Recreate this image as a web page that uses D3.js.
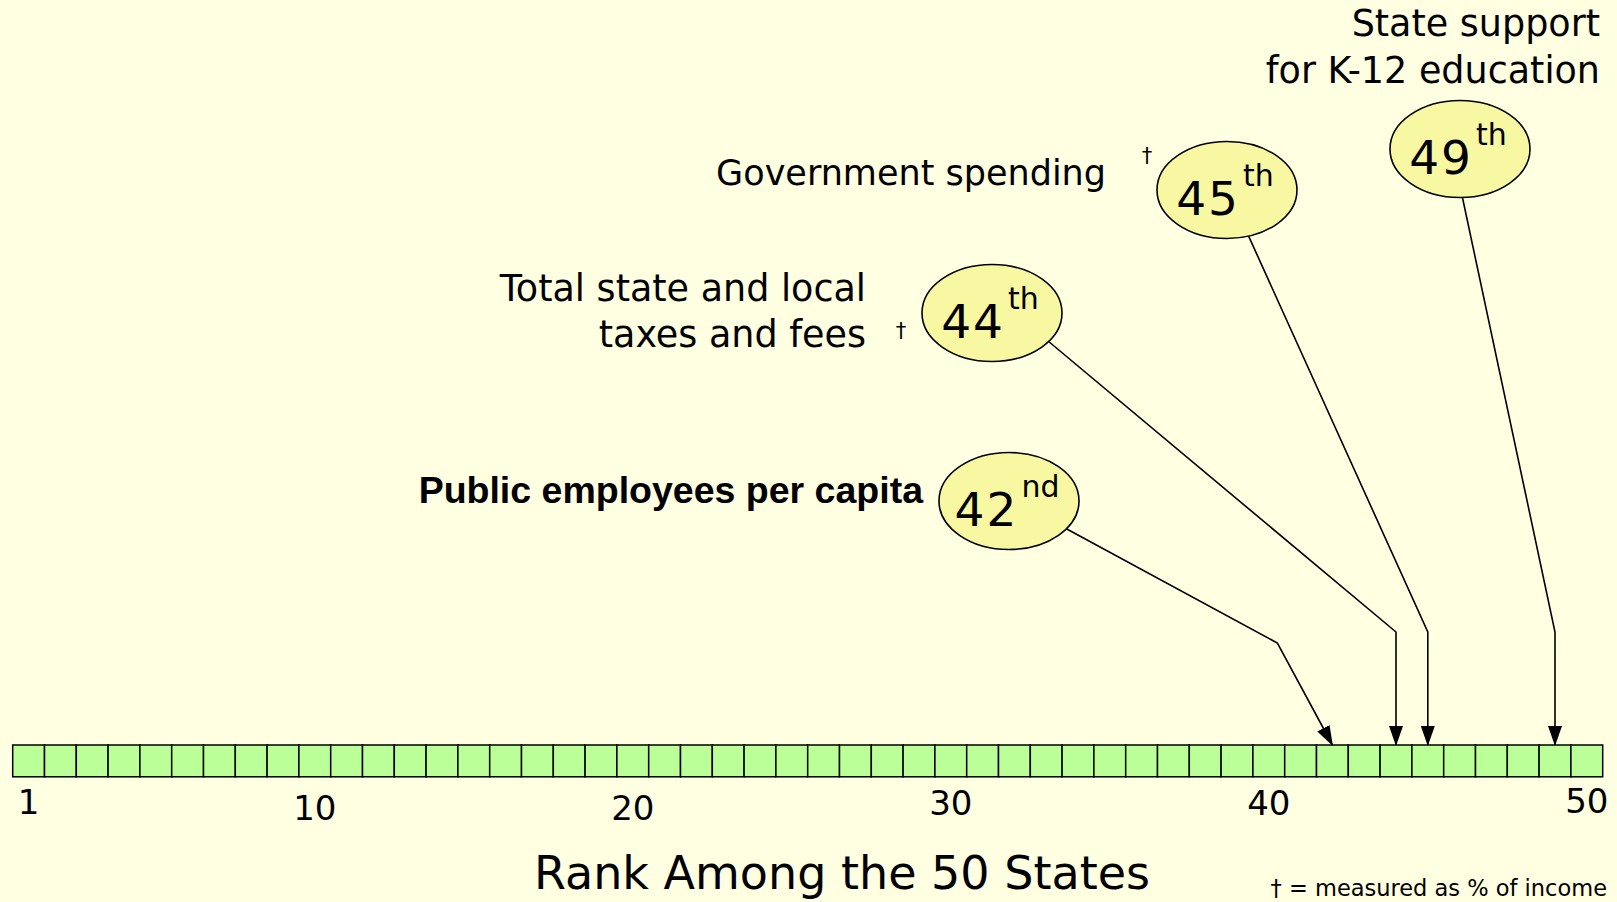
<!DOCTYPE html>
<html>
<head>
<meta charset="utf-8">
<script src="https://cdn.jsdelivr.net/npm/d3@7"></script>
<style>
  body { margin: 0; background: #ffffe1; }
  svg { display: block; }
  text { font-family: "DejaVu Sans", Verdana, sans-serif; fill: #000; }
</style>
</head>
<body>
<div id="chart"></div>
<script>
// ranks along the bar and the labelled ones
var ranks = d3.range(1, 51);
var tickLabels = [1, 10, 20, 30, 40, 50];

// the four measures, where the state ranks on each
var measureLines = [
  ["Public employees per capita"],
  ["Total state and local", "taxes and fees"],
  ["Government spending"],
  ["State support", "for K-12 education"]
];
var measureRanks = [42, 44, 45, 49];
var suffixes = ["nd", "th", "th", "th"];
var perIncome = [false, true, true, false];

var axisTitle = "Rank Among the 50 States";
var footnote = "\u2020 = measured as % of income";

// set the dimensions of the page
var width = 1617, height = 902;

var svg = d3.select("#chart")
  .append("svg")
    .attr("width", width)
    .attr("height", height);

svg.append("rect")
  .attr("width", width).attr("height", height)
  .attr("fill", "#ffffe1");

// band scale for the 50 cells
var x = d3.scaleBand()
  .domain(ranks)
  .range([12.7, 1602.7]);
var barTop = 745, barH = x.bandwidth();
function mid(r) { return x(r) + x.bandwidth() / 2; }

// bar cells
svg.append("g")
  .selectAll("rect")
  .data(ranks)
  .enter()
  .append("rect")
    .attr("x", function(d) { return x(d); })
    .attr("y", barTop)
    .attr("width", x.bandwidth())
    .attr("height", barH)
    .attr("fill", "#bbff99")
    .attr("stroke", "#000")
    .attr("stroke-width", 1.5);

// tick labels (the original has them a little staggered)
var tickNudge = {1: -4, 10: 2, 20: 2, 30: -3, 40: -3, 50: -5};
var xAxis = d3.axisBottom(x).tickValues(tickLabels).tickSize(0).tickPadding(0);
var gx = svg.append("g")
  .attr("transform", "translate(0," + (barTop + barH) + ")")
  .call(xAxis);
gx.select(".domain").remove();
gx.selectAll("text")
  .style("font-size", "34px")
  .attr("fill", "#000")
  .attr("dy", null)
  .attr("y", function(d) { return 41 + tickNudge[d]; });

// arrow head
svg.append("defs").append("marker")
  .attr("id", "head")
  .attr("viewBox", "0 0 20 14")
  .attr("refX", 19).attr("refY", 7)
  .attr("markerWidth", 20).attr("markerHeight", 14)
  .attr("markerUnits", "userSpaceOnUse")
  .attr("orient", "auto")
  .append("path")
    .attr("d", "M0,0L20,7L0,14Z")
    .attr("fill", "#000");

// callout layout: bubble centre, angle where the leader leaves it, elbow, label spot
var callouts = [
  {cx: 1009, cy: 501, ang: 35, elbowDx: -55, elbowY: 643, lx: 923, ly: [503], size: 37.5, bold: true},
  {cx: 992, cy: 313, ang: 36, elbowDx: 0, elbowY: 632, lx: 866, ly: [301, 347], size: 36.5, dag: [901, 338]},
  {cx: 1227, cy: 190, ang: 72, elbowDx: 0, elbowY: 632, lx: 1106, ly: [185], size: 35, dag: [1147, 163]},
  {cx: 1460, cy: 149, ang: 88, elbowDx: 0, elbowY: 632, lx: 1600, ly: [36, 83], size: 36.5}
];
var rx = 70, ry = 48.5;

var g = svg.append("g");
measureRanks.forEach(function(r, i) {
  var c = callouts[i];
  var a = c.ang * Math.PI / 180;
  var sx = c.cx + rx * Math.cos(a), sy = c.cy + ry * Math.sin(a);
  var tip = mid(r);
  var pts = [[sx, sy], [tip + c.elbowDx, c.elbowY], [tip, barTop]];

  g.append("path")
    .attr("d", d3.line()(pts))
    .attr("fill", "none")
    .attr("stroke", "#000")
    .attr("stroke-width", 1.6)
    .attr("marker-end", "url(#head)");

  g.append("ellipse")
    .attr("cx", c.cx).attr("cy", c.cy)
    .attr("rx", rx).attr("ry", ry)
    .attr("fill", "#f8f8a2")
    .attr("stroke", "#000")
    .attr("stroke-width", 1.6);

  var t = g.append("text")
    .attr("x", c.cx - 2)
    .attr("y", c.cy + 25)
    .attr("text-anchor", "middle")
    .attr("font-size", 47)
    .attr("letter-spacing", 2)
    .text(r);
  t.append("tspan")
    .attr("dx", 3)
    .attr("dy", -29)
    .attr("font-size", 30)
    .attr("letter-spacing", 0)
    .text(suffixes[i]);

  measureLines[i].forEach(function(line, j) {
    var lt = g.append("text")
      .attr("x", c.lx)
      .attr("y", c.ly[j])
      .attr("text-anchor", "end")
      .attr("font-size", c.size)
      .text(line);
    if (c.bold) {
      lt.style("font-family", "'Liberation Sans', Arial, sans-serif")
        .style("font-weight", "bold");
    }
  });

  if (perIncome[i]) {
    g.append("text")
      .attr("x", c.dag[0]).attr("y", c.dag[1])
      .attr("text-anchor", "middle")
      .attr("font-size", 21)
      .text("\u2020");
  }
});

// axis title and footnote
svg.append("text")
  .attr("x", 842).attr("y", 889)
  .attr("text-anchor", "middle")
  .attr("font-size", 46)
  .text(axisTitle);

svg.append("text")
  .attr("x", 1607).attr("y", 896)
  .attr("text-anchor", "end")
  .attr("font-size", 22.5)
  .text(footnote);
</script>
</body>
</html>
